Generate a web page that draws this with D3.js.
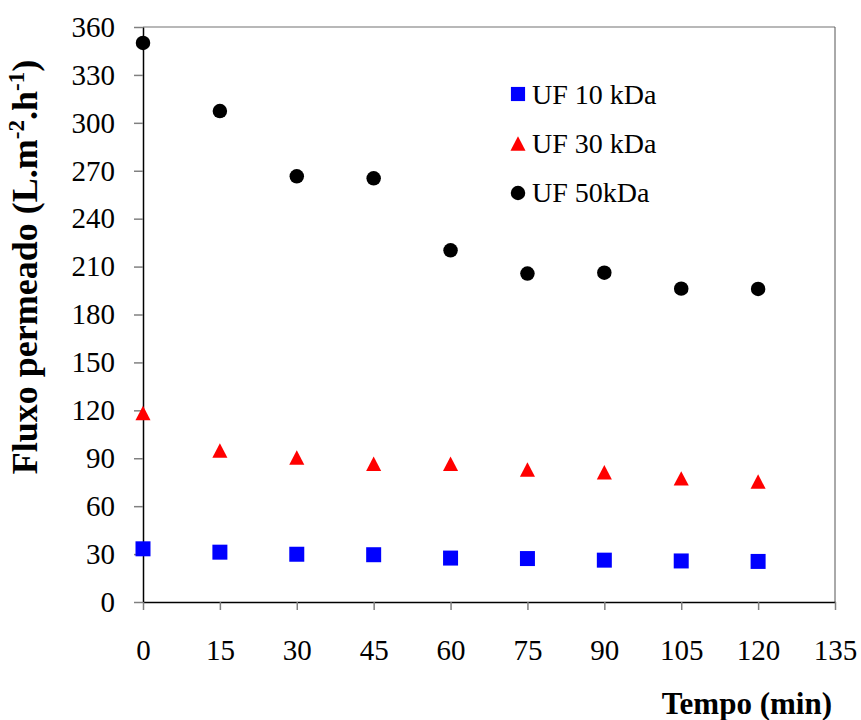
<!DOCTYPE html>
<html>
<head>
<meta charset="utf-8">
<script src="https://cdn.jsdelivr.net/npm/d3@7/dist/d3.min.js"></script>
<style>
  html, body { margin: 0; padding: 0; background: #fff; }
  svg { display: block; }
</style>
</head>
<body>
<svg id="chart" width="861" height="720"></svg>
<script>
const times = [0, 15, 30, 45, 60, 75, 90, 105, 120];
const uf10 = [33.3, 31.2, 29.9, 29.6, 27.5, 27.2, 26.2, 25.7, 25.4];
const uf30 = [118.3, 94.9, 90.4, 86.6, 86.5, 82.9, 81.3, 77.4, 75.4];
const uf50 = [350.0, 307.4, 266.5, 265.3, 220.2, 205.6, 206.2, 196.2, 196.0];
const seriesNames = ["UF 10 kDa", "UF 30 kDa", "UF 50kDa"];
const xTicks = [0, 15, 30, 45, 60, 75, 90, 105, 120, 135];
const yTicks = [0, 30, 60, 90, 120, 150, 180, 210, 240, 270, 300, 330, 360];

const FONT = '"Liberation Serif", "Times New Roman", serif';
const svg = d3.select("#chart");
const x = d3.scaleLinear().domain([0, 135]).range([143, 835]);
const y = d3.scaleLinear().domain([0, 360]).range([602, 27]);

// custom triangle (bounding-box centred)
const triType = {
  draw(ctx, size) {
    const h = Math.sqrt(size);
    ctx.moveTo(0, -h / 2);
    ctx.lineTo(h * 0.52, h / 2);
    ctx.lineTo(-h * 0.52, h / 2);
    ctx.closePath();
  }
};
const styles = [
  { data: uf10, type: d3.symbolSquare, size: 225, color: "#0000ff" },
  { data: uf30, type: triType, size: 210, color: "#ff0000" },
  { data: uf50, type: d3.symbolCircle, size: 165, color: "#000000" }
];

// frame: top and right
svg.append("line").attr("x1", x(0)).attr("x2", x(135)).attr("y1", y(360)).attr("y2", y(360))
  .attr("stroke", "#a0a0a0").attr("stroke-width", 1.5);
svg.append("line").attr("x1", x(135)).attr("x2", x(135)).attr("y1", y(360)).attr("y2", y(0))
  .attr("stroke", "#555").attr("stroke-width", 1);

// y axis
const yAxis = svg.append("g").attr("transform", `translate(${x(0)},0)`)
  .call(d3.axisLeft(y).tickValues(yTicks).tickSize(9).tickSizeOuter(0).tickPadding(19).tickFormat(d3.format("d")));
yAxis.select(".domain").attr("stroke", "#000").attr("stroke-width", 1.5);
yAxis.selectAll(".tick line").attr("stroke", "#808080").attr("stroke-width", 1.5);
yAxis.selectAll(".tick text").style("font-family", FONT).style("font-size", "29px").attr("fill", "#000");

// x axis
const xAxis = svg.append("g").attr("transform", `translate(0,${y(0)})`)
  .call(d3.axisBottom(x).tickValues(xTicks).tickSize(8).tickSizeOuter(0).tickFormat(d3.format("d")));
xAxis.select(".domain").attr("stroke", "#000").attr("stroke-width", 1.5);
xAxis.selectAll(".tick line").attr("stroke", "#808080").attr("stroke-width", 1.5);
xAxis.selectAll(".tick text").style("font-family", FONT).style("font-size", "29px").attr("fill", "#000")
  .attr("y", 58).attr("dy", 0);

// markers
styles.forEach(s => {
  svg.append("g").selectAll("path").data(times.map((t, i) => [t, s.data[i]]))
    .join("path")
    .attr("transform", d => `translate(${x(d[0])},${y(d[1])})`)
    .attr("d", d3.symbol().type(s.type).size(s.size))
    .attr("fill", s.color);
});

// legend
const legY = [94, 143.5, 193];
const legBase = [103.5, 152.5, 202];
styles.forEach((s, i) => {
  svg.append("path").attr("transform", `translate(518,${legY[i]})`)
    .attr("d", d3.symbol().type(s.type).size(s.type === d3.symbolSquare ? 200 : s.size))
    .attr("fill", s.color);
  svg.append("text").attr("x", 532).attr("y", legBase[i])
    .style("font-family", FONT).style("font-size", "28px").attr("fill", "#000")
    .text(seriesNames[i]);
});

// axis titles
svg.append("text").attr("x", 832).attr("y", 714).attr("text-anchor", "end")
  .style("font-family", FONT).style("font-size", "31px").style("font-weight", "bold")
  .text("Tempo (min)");

const yt = svg.append("text").attr("transform", "translate(37,267) rotate(-90)")
  .attr("text-anchor", "middle")
  .style("font-family", FONT).style("font-size", "36px").style("font-weight", "bold");
yt.append("tspan").text("Fluxo permeado (L.m");
yt.append("tspan").style("font-size", "23px").attr("dy", -13).text("-2");
yt.append("tspan").attr("dy", 13).text(".h");
yt.append("tspan").style("font-size", "23px").attr("dy", -13).text("-1");
yt.append("tspan").attr("dy", 13).text(")");
</script>
</body>
</html>
